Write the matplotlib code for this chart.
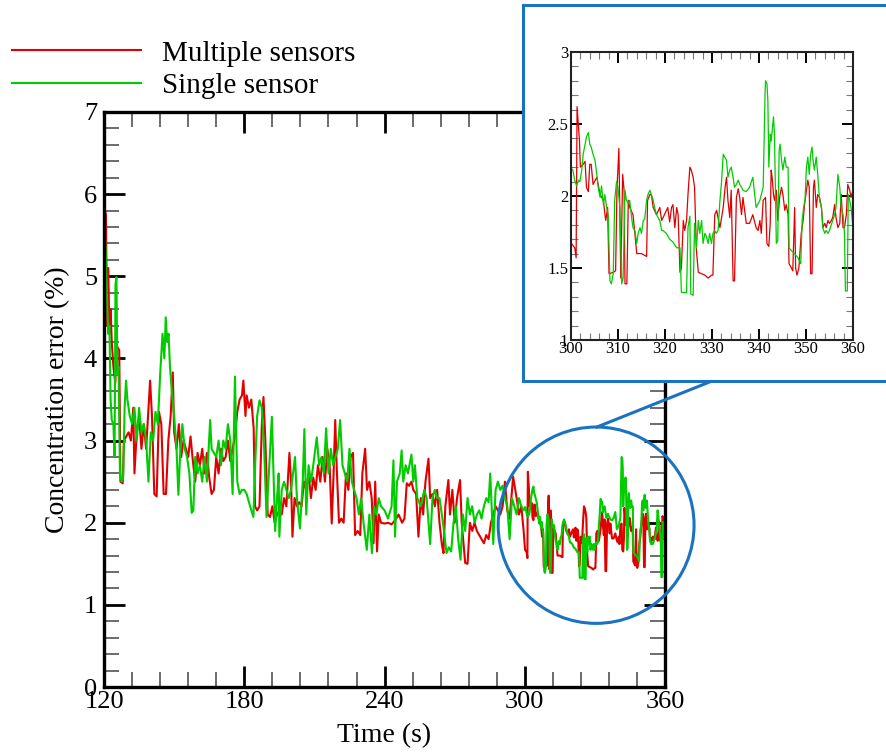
import numpy as np
import matplotlib.pyplot as plt
from matplotlib.patches import Rectangle, Ellipse
from matplotlib.lines import Line2D
from matplotlib.ticker import MultipleLocator

plt.rcParams['font.family'] = ['Liberation Serif', 'DejaVu Serif']

# ---- data ----
# multiple sensors, 120-300 s
t_red_a = [120.3, 120.8, 121.3, 121.8, 122.3, 122.8, 123.3, 124.0, 124.8, 125.5, 126.5, 127.0, 128.0,
           128.5, 129.5, 130.5, 131.5, 132.5, 133.0, 134.0, 135.0, 136.0, 137.0, 138.0, 139.0, 139.7,
           140.5, 141.5, 142.5, 143.5, 144.5, 145.5, 146.5, 147.5, 148.5, 149.4, 150.0, 151.0, 152.0,
           153.0, 154.0, 155.0, 156.0, 157.0, 158.0, 159.0, 160.0, 161.0, 162.0, 163.0, 164.0, 165.0,
           166.0, 167.0, 168.0, 169.0, 170.0, 171.0, 172.0, 173.0, 174.0, 175.0, 176.0, 177.0, 178.0,
           179.0, 179.6, 180.5, 181.0, 182.0, 183.0, 184.0, 184.6, 185.5, 186.5, 187.5, 188.2, 189.0,
           190.0, 191.0, 192.0, 193.0, 194.0, 195.0, 196.0, 197.0, 198.0, 199.3, 200.0, 200.6, 201.5,
           202.5, 203.5, 204.5, 205.5, 206.5, 207.5, 208.5, 209.5, 210.5, 211.5, 212.5, 213.5, 214.5,
           215.5, 216.5, 217.4, 218.2, 218.9, 219.5, 220.5, 221.5, 222.5, 223.5, 224.5, 225.5, 226.5,
           227.4, 228.5, 229.6, 230.5, 231.7, 232.5, 233.5, 234.5, 235.3, 236.0, 236.8, 237.5, 238.5,
           240.0, 241.5, 243.0, 244.5, 246.0, 247.5, 248.5, 249.5, 250.5, 251.5, 252.3, 253.5, 254.5,
           255.5, 256.5, 257.5, 258.8, 259.5, 260.5, 261.5, 262.5, 263.5, 264.5, 265.2, 266.0, 267.3,
           268.0, 269.0, 270.0, 271.0, 272.3, 273.0, 274.5, 275.5, 276.5, 277.5, 278.5, 279.5, 280.5,
           281.5, 282.5, 283.5, 284.5, 285.5, 286.5, 287.5, 288.5, 289.5, 290.5, 291.5, 292.5, 293.5,
           295.0, 296.5, 297.5, 298.5, 299.5]
red_a = [5.80, 5.75, 4.40, 5.10, 4.30, 4.60, 4.20, 3.90, 3.70, 4.15, 4.10, 2.50, 2.48,
         3.00, 3.05, 3.10, 3.00, 3.40, 2.60, 3.10, 3.30, 2.90, 3.20, 2.90, 3.40, 3.73,
         3.30, 2.35, 2.32, 3.35, 3.20, 2.35, 2.35, 3.00, 3.30, 3.83, 3.10, 2.90, 3.20,
         2.80, 3.00, 2.90, 2.80, 3.05, 2.75, 2.50, 2.85, 2.70, 2.90, 2.60, 2.85, 2.55,
         2.35, 2.40, 2.80, 2.60, 2.90, 2.75, 2.80, 3.00, 2.75, 2.90, 3.05, 3.35, 3.50,
         3.55, 3.73, 3.30, 3.55, 3.40, 3.50, 3.15, 2.20, 2.15, 2.20, 3.20, 3.53, 3.00,
         2.10, 2.07, 2.20, 2.00, 2.10, 2.15, 2.10, 2.30, 2.20, 2.85, 2.50, 1.83, 2.30,
         2.20, 2.25, 2.20, 2.50, 2.40, 2.60, 2.30, 2.55, 2.40, 2.70, 2.50, 2.80, 2.50,
         2.90, 2.70, 1.99, 2.60, 3.25, 2.70, 2.00, 2.05, 2.00, 2.60, 2.40, 2.80, 2.85,
         1.85, 1.90, 1.85, 2.60, 2.90, 2.40, 2.50, 2.30, 1.75, 2.50, 1.65, 2.10, 2.00,
         1.99, 2.00, 1.98, 2.03, 2.10, 2.00, 2.05, 2.48, 2.45, 2.50, 2.40, 2.35, 1.83,
         2.30, 2.10, 2.50, 2.78, 2.30, 2.35, 2.20, 2.40, 2.00, 1.74, 1.63, 2.20, 2.52,
         2.10, 2.40, 2.00, 2.30, 2.52, 2.00, 1.51, 1.50, 2.00, 1.90, 2.00, 1.90, 1.85,
         1.80, 1.75, 1.85, 1.80, 2.00, 2.10, 2.20, 2.15, 2.10, 2.20, 2.50, 2.15, 2.05,
         2.56, 2.30, 2.10, 2.20, 1.90]

# multiple sensors, 300-360 s (from the zoomed panel)
t_red_b = [300.1, 300.8, 301.1, 301.3, 301.8, 302.0, 302.6, 303.0, 303.3, 303.7, 304.0, 304.3, 304.7,
           305.5, 306.2, 306.9, 307.2, 307.4, 307.8, 308.1, 309.0, 309.5, 309.8, 310.2, 310.4, 310.6,
           311.0, 311.3, 311.5, 311.9, 312.2, 312.5, 313.2, 313.6, 314.0, 314.7, 315.0, 316.1, 316.3,
           316.8, 317.1, 317.5, 318.2, 318.9, 319.3, 319.6, 320.3, 320.6, 321.0, 321.4, 321.7, 322.1,
           322.5, 322.8, 323.2, 323.5, 323.9, 324.2, 324.6, 324.9, 325.3, 325.6, 326.0, 326.3, 326.7,
           327.1, 327.8, 328.5, 329.2, 329.9, 330.2, 330.6, 331.0, 331.3, 331.7, 332.4, 332.8, 333.1,
           333.4, 333.8, 334.1, 334.5, 334.8, 335.2, 335.6, 335.9, 336.3, 336.6, 337.3, 338.0, 338.7,
           339.4, 339.8, 340.2, 340.5, 340.9, 341.4, 341.7, 342.1, 342.4, 342.6, 342.8, 343.1, 343.3,
           343.7, 344.0, 344.4, 344.8, 345.1, 345.5, 345.8, 346.2, 346.4, 346.9, 347.2, 347.6, 347.8,
           348.1, 348.5, 349.0, 349.4, 349.7, 350.1, 350.4, 350.7, 351.0, 351.3, 351.6, 351.8, 352.2,
           352.5, 352.9, 353.3, 353.6, 354.0, 354.3, 354.7, 355.0, 355.4, 355.7, 356.1, 356.4, 356.8,
           357.2, 357.5, 357.9, 358.2, 358.6, 358.9, 359.3, 359.6, 360.0]
red_b = [1.67, 1.64, 1.57, 2.62, 2.39, 2.20, 2.22, 2.24, 2.06, 2.03, 2.22, 2.22, 2.08,
         2.13, 2.01, 1.97, 1.88, 1.83, 1.92, 1.46, 1.47, 1.48, 2.06, 2.33, 1.87, 1.43,
         2.15, 2.04, 1.39, 1.39, 1.97, 1.92, 1.87, 1.74, 1.60, 1.60, 1.60, 1.58, 1.97,
         2.01, 2.01, 1.92, 1.87, 1.92, 1.83, 1.85, 1.90, 1.92, 1.82, 1.92, 1.94, 1.78,
         1.92, 1.87, 1.47, 1.50, 1.83, 1.76, 1.83, 2.01, 2.20, 2.18, 2.13, 2.06, 1.62,
         1.47, 1.46, 1.45, 1.43, 1.45, 1.45, 1.87, 1.90, 1.85, 1.78, 1.92, 2.06, 2.13,
         1.97, 1.85, 2.04, 1.41, 1.41, 1.99, 2.05, 1.99, 1.87, 1.99, 1.81, 1.81, 1.87,
         1.78, 1.76, 1.83, 1.74, 1.97, 1.99, 1.67, 1.65, 1.81, 2.18, 2.13, 2.01, 1.97,
         2.04, 1.83, 1.99, 2.06, 2.01, 1.90, 1.94, 1.87, 1.53, 1.50, 1.48, 1.92, 1.50,
         1.45, 1.50, 1.74, 1.83, 1.94, 2.04, 2.11, 2.06, 1.46, 1.46, 2.06, 2.11, 1.92,
         2.01, 1.99, 1.92, 1.78, 1.81, 1.78, 1.83, 1.81, 1.83, 1.85, 1.94, 1.85, 1.78,
         1.81, 2.01, 1.78, 1.78, 1.87, 2.08, 2.04, 1.99, 2.04]

# single sensor, 120-300 s
t_grn_a = [120.2, 120.7, 121.2, 121.8, 122.3, 122.8, 123.3, 124.0, 124.5, 124.9, 125.3, 125.7, 126.2,
           126.8, 127.5, 128.2, 128.8, 129.4, 130.0, 131.0, 132.0, 133.0, 134.0, 135.0, 136.0, 137.0,
           138.0, 139.0, 140.0, 141.0, 142.0, 143.0, 144.0, 145.0, 145.8, 146.4, 147.0, 147.6, 148.2,
           149.0, 150.0, 151.0, 151.8, 152.5, 153.5, 154.5, 155.5, 156.5, 157.5, 158.2, 159.0, 160.0,
           161.0, 162.0, 163.0, 164.0, 165.4, 166.0, 167.0, 168.0, 169.0, 170.0, 171.0, 172.0, 173.0,
           174.0, 175.0, 176.0, 177.0, 178.0, 179.0, 180.0, 181.0, 182.0, 183.0, 183.9, 184.5, 185.5,
           186.5, 187.5, 188.5, 189.5, 190.5, 191.8, 192.5, 193.2, 194.0, 194.7, 195.0, 196.0, 197.0,
           198.0, 199.0, 200.0, 201.7, 202.5, 203.8, 205.0, 205.7, 206.5, 207.5, 208.5, 209.5, 211.0,
           212.0, 213.0, 214.0, 215.0, 216.0, 217.0, 218.0, 219.0, 220.0, 221.0, 222.0, 223.0, 224.0,
           225.0, 226.0, 227.0, 228.0, 229.0, 230.0, 231.0, 232.4, 233.5, 234.6, 235.5, 236.5, 237.5,
           238.5, 240.0, 241.5, 243.0, 243.8, 244.5, 245.3, 246.5, 247.3, 248.0, 249.0, 250.0, 251.5,
           252.3, 253.0, 254.0, 255.5, 257.0, 258.0, 259.5, 260.5, 261.5, 262.5, 263.5, 265.0, 266.5,
           267.5, 268.5, 269.5, 270.5, 271.5, 272.5, 273.5, 274.5, 275.5, 276.5, 277.5, 278.5, 279.5,
           280.5, 281.5, 282.5, 283.5, 284.5, 285.2, 286.5, 287.5, 288.5, 289.5, 290.5, 291.5, 292.5,
           293.5, 294.5, 295.5, 296.5, 297.5, 298.5, 299.5]
grn_a = [5.60, 5.30, 4.80, 4.30, 4.40, 3.50, 3.25, 3.20, 2.80, 4.90, 4.99, 3.80, 3.90,
         2.60, 2.50, 2.55, 3.40, 3.73, 3.50, 3.30, 3.20, 3.40, 3.00, 3.40, 3.10, 3.20,
         3.00, 2.50, 3.10, 3.00, 3.35, 3.20, 3.80, 4.30, 4.00, 4.50, 4.20, 4.30, 3.90,
         3.60, 3.30, 2.90, 2.34, 2.80, 3.20, 2.90, 2.80, 2.60, 2.12, 2.15, 2.80, 2.60,
         2.70, 2.50, 2.80, 2.50, 3.25, 2.90, 2.85, 2.80, 3.00, 2.70, 3.00, 2.90, 3.20,
         3.00, 2.35, 3.78, 2.50, 2.35, 2.40, 2.40, 2.35, 2.25, 2.15, 2.07, 2.60, 3.30,
         3.49, 3.40, 2.90, 2.07, 2.60, 3.29, 2.60, 1.90, 2.30, 2.60, 1.83, 2.40, 2.50,
         2.40, 2.30, 2.40, 2.80, 2.30, 1.93, 2.50, 3.14, 2.10, 2.70, 2.50, 2.70, 3.04,
         2.70, 2.80, 2.60, 3.15, 2.60, 2.90, 2.70, 2.80, 2.90, 3.25, 2.70, 2.60, 2.50,
         2.90, 2.50, 2.40, 2.30, 2.10, 2.30, 2.00, 1.67, 2.10, 1.63, 2.20, 2.10, 2.30,
         2.20, 2.15, 2.05, 2.20, 2.76, 1.83, 2.50, 2.60, 2.88, 2.50, 2.70, 2.60, 2.83,
         2.50, 2.70, 2.30, 2.20, 2.40, 2.30, 1.74, 2.30, 2.40, 2.30, 2.30, 2.00, 1.63,
         1.70, 1.65, 2.00, 2.20, 1.80, 1.55, 2.10, 1.90, 2.30, 2.10, 2.20, 2.00, 2.10,
         2.15, 2.05, 2.20, 2.30, 2.25, 2.60, 1.74, 2.40, 2.50, 2.40, 2.45, 2.30, 2.20,
         1.80, 2.30, 2.20, 2.10, 2.30, 2.20, 2.15]

# single sensor, 300-360 s (from the zoomed panel)
t_grn_b = [300.1, 300.4, 300.8, 301.2, 301.6, 301.9, 302.3, 302.6, 303.0, 303.3, 303.7, 304.0, 304.3,
           304.7, 305.1, 305.5, 305.8, 306.2, 306.5, 306.9, 307.2, 307.6, 307.9, 308.3, 308.6, 309.0,
           309.3, 309.7, 310.0, 310.4, 310.8, 311.1, 311.5, 311.8, 312.2, 312.5, 312.9, 313.2, 313.6,
           314.0, 314.3, 314.7, 315.0, 315.4, 315.7, 316.1, 316.4, 316.8, 317.1, 317.5, 317.8, 318.2,
           318.9, 319.3, 319.6, 320.3, 321.0, 321.7, 322.5, 323.2, 323.5, 324.2, 324.6, 324.9, 325.3,
           325.5, 326.0, 326.3, 326.7, 327.1, 327.4, 327.8, 328.1, 328.5, 328.8, 329.2, 329.5, 329.9,
           330.2, 330.6, 330.9, 331.3, 331.7, 332.0, 332.4, 332.7, 333.1, 333.4, 333.8, 334.1, 334.5,
           334.8, 335.2, 335.6, 335.9, 336.3, 336.6, 337.3, 338.0, 338.7, 339.1, 339.4, 340.2, 340.5,
           340.9, 341.3, 341.4, 341.7, 341.9, 342.1, 342.4, 342.6, 343.0, 343.1, 343.3, 343.7, 344.0,
           344.3, 344.5, 344.8, 345.1, 345.5, 345.8, 346.2, 346.4, 346.9, 347.6, 348.3, 348.9, 349.2,
           349.5, 349.8, 350.1, 350.4, 350.7, 351.0, 351.3, 351.5, 351.8, 352.2, 352.5, 352.9, 353.3,
           353.6, 354.0, 354.3, 354.7, 355.0, 355.4, 355.7, 356.1, 356.4, 356.8, 357.2, 357.5, 357.9,
           358.2, 358.4, 358.8, 359.0, 359.3, 359.6, 360.0]
grn_b = [2.19, 2.18, 2.11, 2.07, 2.11, 2.10, 2.18, 2.29, 2.36, 2.41, 2.44, 2.36, 2.34,
         2.29, 2.25, 2.15, 2.06, 1.99, 2.07, 1.94, 2.01, 1.92, 1.87, 1.41, 1.39, 1.46,
         1.97, 2.10, 2.06, 1.92, 1.39, 1.43, 2.04, 1.97, 1.95, 1.97, 1.85, 1.78, 1.76,
         1.67, 1.74, 1.78, 1.74, 1.83, 1.84, 1.97, 2.01, 2.04, 2.01, 1.97, 1.92, 1.87,
         1.83, 1.76, 1.76, 1.74, 1.70, 1.68, 1.64, 1.64, 1.33, 1.33, 1.33, 1.78, 1.86,
         1.32, 1.31, 1.81, 1.64, 1.83, 1.74, 1.83, 1.67, 1.74, 1.72, 1.67, 1.74, 1.67,
         1.74, 1.76, 1.74, 1.76, 1.97, 2.08, 2.29, 2.27, 2.25, 2.13, 2.18, 2.20, 2.13,
         2.06, 2.08, 2.11, 2.08, 2.06, 2.04, 2.03, 2.06, 2.13, 2.01, 1.92, 1.97, 2.01,
         2.06, 2.71, 2.80, 2.78, 2.66, 2.20, 2.43, 2.38, 2.52, 2.55, 2.43, 1.67, 1.69,
         2.32, 2.36, 2.25, 2.18, 2.27, 2.20, 2.20, 1.64, 1.62, 1.60, 1.57, 1.53, 1.83,
         1.92, 1.97, 2.20, 2.27, 2.15, 2.29, 2.34, 2.25, 2.18, 2.27, 2.15, 1.97, 1.92,
         1.78, 1.74, 1.76, 1.74, 1.76, 1.80, 1.83, 1.87, 1.92, 2.15, 2.06, 1.92, 1.87,
         1.74, 1.34, 1.34, 2.01, 1.97, 1.92, 1.78]

t_red = np.array(t_red_a + t_red_b)
red = np.array(red_a + red_b)
t_grn = np.array(t_grn_a + t_grn_b)
grn = np.array(grn_a + grn_b)

c_red = '#e00000'
c_grn = '#00cc00'
c_blue = '#1a73c0'

fig = plt.figure(figsize=(8.87, 7.53), dpi=100)

# main axes
ax = fig.add_axes([0.1173, 0.0876, 0.6325, 0.7637])
ax.plot(t_red, red, color=c_red, lw=1.5, label='Multiple sensors')
ax.plot(t_grn, grn, color=c_grn, lw=1.5, label='Single sensor')
ax.set_xlim(120, 360)
ax.set_ylim(0, 7)
ax.xaxis.set_major_locator(MultipleLocator(60))
ax.xaxis.set_minor_locator(MultipleLocator(12))
ax.yaxis.set_major_locator(MultipleLocator(1))
ax.yaxis.set_minor_locator(MultipleLocator(0.2))
ax.tick_params(which='both', direction='in', top=True, right=True)
ax.tick_params(which='major', length=15, width=2, labelsize=19, pad=5)
ax.tick_params(which='minor', length=11, width=1.1, color='#444444')
ax.tick_params(axis='x', which='major', pad=3)
for s in ax.spines.values():
    s.set_linewidth(2.4)
ax.set_xlabel('Time (s)', fontsize=20, labelpad=7)
ax.set_ylabel('Concentration error (%)', fontsize=20, labelpad=10)

# circle marking the zoomed region
circ = Ellipse((330.5, 1.97), width=83.8, height=2.39, fill=False,
               edgecolor=c_blue, lw=2.2, clip_on=False, zorder=5)
ax.add_patch(circ)

# legend at top-left, outside the axes
fig.legend(loc='upper left', bbox_to_anchor=(0.0, 0.962), frameon=False,
           fontsize=21, handlelength=4.45, handletextpad=0.7, labelspacing=0.2,
           borderaxespad=0.0)

# inset frame and connector
frame = Rectangle((523 / 887, 1 - 381 / 753), 0.5, 376 / 753, transform=fig.transFigure,
                  facecolor='white', edgecolor=c_blue, lw=2.2, zorder=1)
fig.patches.append(frame)
fig.lines.append(Line2D([597 / 887, 712 / 887], [1 - 427 / 753, 1 - 381 / 753],
                        transform=fig.transFigure, color=c_blue, lw=2.2, zorder=0.5))

# inset axes
axi = fig.add_axes([0.6437, 0.5485, 0.3179, 0.3825], zorder=2)
axi.plot(t_red, red, color=c_red, lw=0.9)
axi.plot(t_grn, grn, color=c_grn, lw=0.9)
axi.set_xlim(300, 360)
axi.set_ylim(1, 3)
axi.xaxis.set_major_locator(MultipleLocator(10))
axi.xaxis.set_minor_locator(MultipleLocator(2))
axi.yaxis.set_major_locator(MultipleLocator(0.5))
axi.yaxis.set_minor_locator(MultipleLocator(0.1))
axi.yaxis.set_major_formatter(plt.FuncFormatter(lambda v, p: '%g' % v))
axi.tick_params(which='both', direction='in', top=True, right=True)
axi.tick_params(which='major', length=8, width=1.4, labelsize=12, pad=2)
axi.tick_params(axis='x', which='major', pad=1)
axi.tick_params(which='minor', length=5, width=0.8, color='#777777')
for s in axi.spines.values():
    s.set_linewidth(1.5)
    s.set_color('#222222')

plt.savefig('out.png', dpi=100)
